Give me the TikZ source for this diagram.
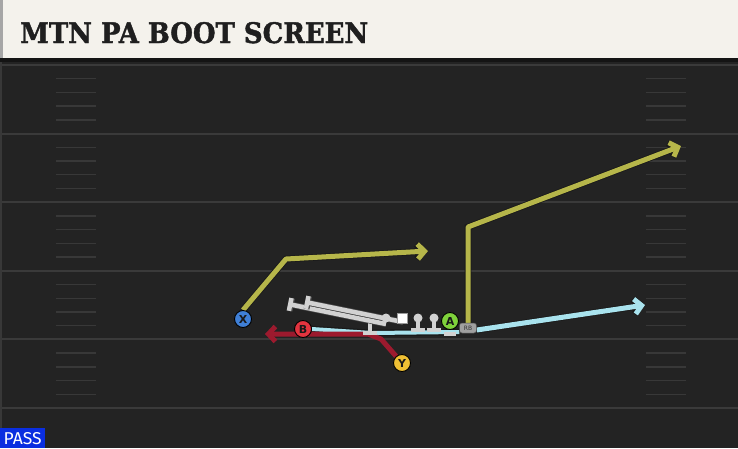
\documentclass[tikz,border=0pt]{standalone}
\usepackage{fontspec}
\setmainfont{DejaVu Sans}
\newfontfamily\titlefont{DejaVu Serif}[BoldFeatures={FakeBold=1.5}]
\newfontfamily\passfont{Fira Sans}
\usetikzlibrary{arrows.meta,calc}
\pgfdeclarelayer{fieldlayer}
\pgfdeclarelayer{routelayer}
\pgfdeclarelayer{linelayer}
\pgfsetlayers{fieldlayer,routelayer,linelayer,main}
\definecolor{fieldbg}{HTML}{232323}
\definecolor{yardline}{HTML}{3A3A3A}
\definecolor{hashc}{HTML}{383838}
\definecolor{headerbg}{HTML}{F4F2EC}
\definecolor{titlec}{HTML}{1F1F1F}
\definecolor{yroute}{HTML}{B6B64A}
\definecolor{croute}{HTML}{A9E3EE}
\definecolor{rroute}{HTML}{9C1A2E}
\definecolor{xblue}{HTML}{3F7FD6}
\definecolor{bred}{HTML}{E3343F}
\definecolor{yyel}{HTML}{EFC034}
\definecolor{agreen}{HTML}{7FD23B}
\definecolor{rbgray}{HTML}{A0A0A0}
\definecolor{olgray}{HTML}{D2D2D2}
\definecolor{passblue}{HTML}{0A2EE0}
\tikzset{
  player/.style={circle, draw=black, line width=0.9pt, minimum size=17pt, inner sep=0pt,
    font=\bfseries\fontsize{11}{11}\selectfont, text=black!90},
  rbbox/.style={rounded corners=2.5pt, fill=rbgray, draw=black!70, line width=0.5pt,
    minimum width=17pt, minimum height=10pt, inner sep=0pt, font=\fontsize{6}{6}\selectfont, text=black!80},
  route/.style={line width=5pt, line join=round, preaction={draw=black!90, line width=6.6pt}},
  tipped/.style={-{Straight Barb[length=7pt,width=15pt]}},
  blockline/.style={draw=olgray, line width=4.5pt, -{Bar[width=13pt]}, preaction={draw=black!70, line width=5.8pt}},
  yardl/.style={draw=yardline, line width=2pt},
  hashl/.style={draw=hashc, line width=1.4pt}
}
\begin{document}
\begin{tikzpicture}[x=1pt,y=-1pt]
\useasboundingbox (0,0) rectangle (738,448);
\begin{pgfonlayer}{fieldlayer}
% field
\fill[fieldbg] (0,0) rectangle (738,448);
\fill[black!78] (0,58) rectangle (2,448);
\foreach \yy in {65,133.6,202.2,270.8,339.4,408} {
  \draw[yardl] (2,\yy) -- (738,\yy);
}
\foreach \yy in {65,133.6,202.2,270.8,339.4} {
  \foreach \j in {1,...,4} {
    \draw[hashl] (56,\yy+13.72*\j) -- (96,\yy+13.72*\j);
    \draw[hashl] (646,\yy+13.72*\j) -- (686,\yy+13.72*\j);
  }
}
% header
\fill[headerbg] (3,0) rectangle (738,58);
\fill[black!35] (0,0) rectangle (3,58);
\fill[black!92] (0,58) rectangle (738,62);
\end{pgfonlayer}
\node[anchor=base west, inner sep=0pt, text=titlec] (title) at (20,43)
  {\resizebox{348pt}{21pt}{\titlefont\bfseries MTN PA BOOT SCREEN}};
% pass label
\node[fill=passblue, anchor=north west, minimum width=45pt, minimum height=20pt, inner sep=0pt, text=white] (pass) at (0,428)
  {\resizebox{38pt}{12pt}{\passfont PASS}};

% players
\node[player, fill=xblue] (X) at (243,319) {X};
\node[player, fill=bred] (B) at (303,329) {B};
\node[player, fill=yyel] (Y) at (402,363) {Y};
\node[player, fill=agreen] (A) at (450,321) {A};
\node[rbbox] (RB) at (468,328) {RB};

% route coordinates
\coordinate (x1) at (286,259);
\coordinate (x2) at (428,251);
\coordinate (a1) at (468,227);
\coordinate (a2) at (681,146);
\coordinate (c1) at (372,333);
\coordinate (c2) at (645,305);
\coordinate (r1) at (381,339);
\coordinate (r2) at (368,334);
\coordinate (r3) at (265,334);

\begin{pgfonlayer}{routelayer}
% cyan route
\draw[route, draw=croute, line width=4pt] (B.east) -- (c1) -- ([yshift=-4pt]RB.west);
\draw[route, tipped, draw=croute] ([yshift=-2pt]RB.east) -- (c2);
% red route
\draw[tipped, draw=rroute, line width=5pt, line join=round] (Y) -- (r1) -- (r2) -- (r3);
% yellow routes
\draw[route, tipped, draw=yroute] (X.north) -- (x1) -- (x2);
\draw[route, tipped, draw=yroute] (RB.north) -- (a1) -- (a2);
\end{pgfonlayer}

% offensive line
\coordinate (l1) at (370,321);
\coordinate (l2) at (386,318);
\coordinate (ctr) at (402,318);
\coordinate (l4) at (418,318);
\coordinate (l5) at (434,318);
\coordinate (b1s) at (386,324);
\coordinate (b1e) at (288,304);
\coordinate (b2s) at (403,322);
\coordinate (b2e) at (305,302);
\begin{pgfonlayer}{linelayer}
\foreach \p/\by/\hw in {l1/333/7, l4/330/7, l5/330/7} {
  \draw[olgray, line width=4pt] (\p) -- (\p |- 0,\by);
  \draw[olgray, line width=4pt] ([xshift=-\hw pt]\p |- 0,\by) -- ([xshift=\hw pt]\p |- 0,\by);
}
\draw[olgray, line width=3.5pt] (444,334) -- (456,334);
\draw[blockline] (b1s) -- (b1e);
\draw[blockline] (b2s) -- (b2e);
\fill[olgray] (l2) circle (4.5pt);
\fill[olgray] (l4) circle (4.5pt);
\fill[olgray] (l5) circle (4.5pt);
\fill[white, draw=black!40, line width=0.4pt] ($(ctr)+(-5,-5)$) rectangle ($(ctr)+(5,5)$);
\end{pgfonlayer}
\end{tikzpicture}
\end{document}
